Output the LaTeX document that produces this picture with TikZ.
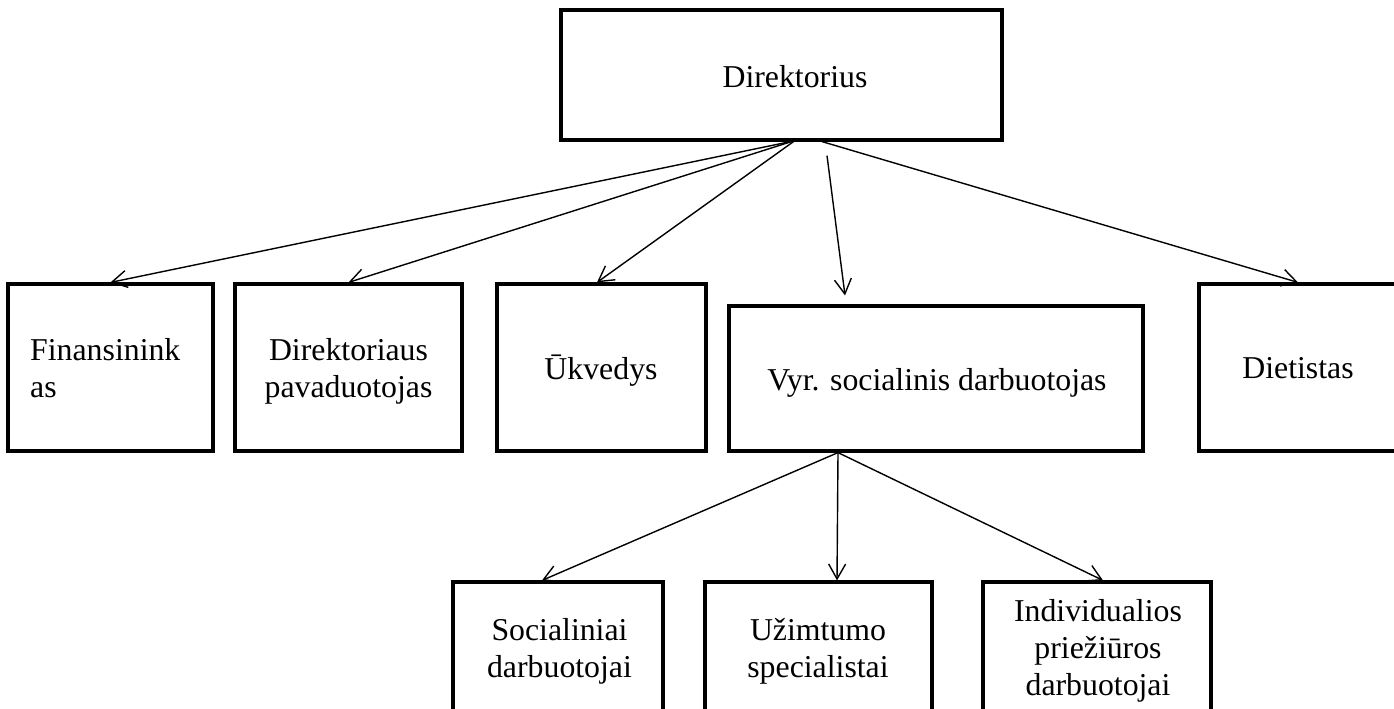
\documentclass[tikz,border=0pt]{standalone}
\usepackage{fontspec}
\setmainfont{Liberation Serif}
\usetikzlibrary{arrows.meta,calc}
\tikzset{
  box/.style={draw, line width=3.2pt, rectangle, inner sep=0pt},
  lbl/.style={inner sep=0pt, anchor=base, align=center, font=\fontsize{31.8}{37}\selectfont},
  conn/.style={line width=1.4pt, -{Straight Barb[length=15pt,width=17pt,line width=1.4pt]}}
}
\begin{document}
\begin{tikzpicture}[x=1pt,y=-1pt]
\useasboundingbox (0,0) rectangle (1394,709);
\clip (0,0) rectangle (1394,709);
% boxes
\node[box, minimum width=441, minimum height=130] (dir)  at (781.5,75) {};
\node[box, minimum width=205, minimum height=167] (fin)  at (110.5,367.5) {};
\node[box, minimum width=227, minimum height=167] (dpav) at (348.5,367.5) {};
\node[box, minimum width=209, minimum height=167] (ukv)  at (601.5,367.5) {};
\node[box, minimum width=414, minimum height=145] (vyr)  at (936,378.5) {};
\node[box, minimum width=198, minimum height=167] (diet) at (1298,367.5) {};
\node[box, minimum width=210, minimum height=138] (soc)  at (558,651) {};
\node[box, minimum width=227, minimum height=138] (uzi)  at (818.5,651) {};
\node[box, minimum width=228, minimum height=138] (ind)  at (1097,651) {};
% texts
\node[lbl] (dirt)  at (795,88) {Direktorius};
\node[lbl, anchor=base west, align=left] (fint) at (30,397) {Finansinink\\as};
\node[lbl] (dpavt) at (348.5,397) {Direktoriaus\\pavaduotojas};
\node[lbl] (ukvt)  at (601,379) {Ūkvedys};
\node[lbl] (vyrt)  at (937,390) {Vyr. socialinis darbuotojas};
\node[lbl] (diett) at (1298,378) {Dietistas};
\node[lbl] (soct)  at (559.5,677) {Socialiniai\\darbuotojai};
\node[lbl] (uzit)  at (818,677) {Užimtumo\\specialistai};
\node[lbl] (indt)  at (1098,695) {Individualios\\priežiūros\\darbuotojai};
% connectors
\draw[conn] ($(dir.south)+(9,0)$) -- (fin.north);
\draw[conn] ($(dir.south)+(10,0)$) -- (dpav.north);
\draw[conn] ($(dir.south)+(12,0)$) -- ($(ukv.north)+(-4.5,0)$);
\draw[conn] ($(dir.south)+(45.5,14)$) -- ($(vyr.north)+(-91,-9)$);
\draw[conn] ($(dir.south)+(40.5,0)$) -- (diet.north);
\draw[conn] ($(vyr.south)+(-98,0)$) -- ($(soc.north)+(-16,0)$);
\draw[conn] ($(vyr.south)+(-98,0)$) -- ($(uzi.north)+(18.5,0)$);
\draw[conn] ($(vyr.south)+(-98,0)$) -- ($(ind.north)+(6,0)$);
\end{tikzpicture}
\end{document}
